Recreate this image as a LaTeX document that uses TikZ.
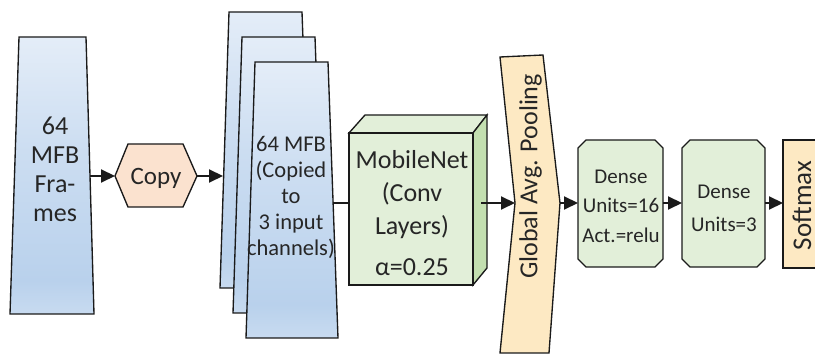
\documentclass[tikz,border=0pt]{standalone}
\usepackage{fontspec}
\setmainfont{Carlito}
\usetikzlibrary{arrows.meta}

\definecolor{slabtop}{HTML}{E4EDF8}
\definecolor{slabmid}{HTML}{B9D1EC}
\definecolor{slabbot}{HTML}{C8DBF0}
\definecolor{convfront}{HTML}{E2EFD9}
\definecolor{convside}{HTML}{C3DFB0}
\definecolor{densefill}{HTML}{E2EFD9}
\definecolor{poolfill}{HTML}{FDE9C3}
\definecolor{copyfill}{HTML}{FBE2CF}
\definecolor{inkline}{HTML}{1A1A1A}
\definecolor{inktext}{HTML}{262626}

% pale at the top, deepest blue near the foot, slightly lighter at the very bottom
\pgfdeclareverticalshading{slabshade}{100bp}{%
  color(0bp)=(slabbot); color(25bp)=(slabbot); color(31bp)=(slabmid);
  color(55bp)=(slabmid!55!slabtop); color(75bp)=(slabtop); color(100bp)=(slabtop)}

\begin{document}
\begin{tikzpicture}[x=1pt,y=-1pt,
  outline/.style={draw=inkline, line width=1.35pt, line join=miter},
  slab/.style={outline, shade, shading=slabshade},
  txt/.style={text=inktext, align=center, inner sep=0pt},
  flow/.style={draw=inkline, line width=2.1pt, -{Triangle[length=14pt,width=13pt]}},
  link/.style={draw=inkline, line width=1.8pt}]
\useasboundingbox (0,0) rectangle (815,355);
\clip (0,0) rectangle (815,355);

% input frames
\path[slab] (19,37) -- (86,37) -- (94,314) -- (10,314) -- cycle;
\node[txt, font=\fontsize{26}{29}\selectfont] (frames) at (55,169) {64\\MFB\\Fra-\\mes};
\coordinate (frames-out) at (90,176);

% copy step
\path[outline, fill=copyfill] (115,176) -- (128,144) -- (183,144) -- (197,176)
  -- (183,207) -- (128,207) -- cycle;
\node[txt, font=\fontsize{25}{28}\selectfont, anchor=base] (copy) at (156,185) {Copy};
\coordinate (copy-in) at (115,176);
\coordinate (copy-out) at (197,176);

% three input channels, back to front
\foreach \dx/\dy in {-26/-50, -13/-25, 0/0}
  \path[slab, shift={(\dx,\dy)}] (255,62) -- (328,62) -- (338,338) -- (246,338) -- cycle;
\node[txt, font=\fontsize{22.5}{26}\selectfont] (slabs) at (291,197)
  {64 MFB\\(Copied\\to\\3 input\\channels)};
\coordinate (slabs-in) at (223,176);
\coordinate (slabs-out) at (333,203);

% MobileNet block as a cuboid
\path[outline, fill=convfront] (349,133) -- (365,115) -- (487,115) -- (473,133) -- cycle;
\path[outline, fill=convside] (473,133) -- (487,115) -- (487,268) -- (473,285) -- cycle;
\path[outline, fill=convfront] (349,133) rectangle (473,285);
\node[txt, font=\fontsize{26}{33}\selectfont] (conv) at (412,213.5)
  {MobileNet\\(Conv\\Layers)\\[8pt]α=0.25};
\coordinate (conv-in) at (349,203);
\coordinate (conv-out) at (481,203);

% global average pooling chevron
\path[outline, fill=poolfill] (500,57) -- (543,55) -- (560,203) -- (549,353)
  -- (500,353) -- (515,203) -- cycle;
\node[txt, font=\fontsize{26}{30}\selectfont, rotate=90] (pool) at (530.5,176.5)
  {Global Avg. Pooling};
\coordinate (pool-in) at (515,203);
\coordinate (pool-out) at (560,203);

% dense layers
\path[outline, fill=densefill] (586,140) -- (655,140) -- (663,148) -- (663,259)
  -- (655,267) -- (586,267) -- (578,259) -- (578,148) -- cycle;
\node[txt, font=\fontsize{21}{29.5}\selectfont] (dense1) at (621,206)
  {Dense\\Units=16\\Act.=relu};
\coordinate (dense1-in) at (578,203);
\coordinate (dense1-out) at (663,203);

\path[outline, fill=densefill] (690,140) -- (757,140) -- (765,148) -- (765,259)
  -- (757,267) -- (690,267) -- (682,259) -- (682,148) -- cycle;
\node[txt, font=\fontsize{21}{33}\selectfont] (dense2) at (724,208)
  {Dense\\Units=3};
\coordinate (dense2-in) at (682,203);
\coordinate (dense2-out) at (765,203);

% softmax output
\path[outline, fill=poolfill] (783,140) rectangle (830,268);
\node[txt, font=\fontsize{27}{30}\selectfont, rotate=90] (soft) at (802,205.5) {Softmax};
\coordinate (soft-in) at (783,203);

% connectors
\draw[flow] (frames-out) -- (copy-in);
\draw[flow] (copy-out) -- (slabs-in);
\draw[link] (slabs-out) -- (conv-in);
\draw[flow] (conv-out) -- (pool-in);
\draw[flow] (pool-out) -- (dense1-in);
\draw[flow] (dense1-out) -- (dense2-in);
\draw[flow] (dense2-out) -- (soft-in);
\end{tikzpicture}
\end{document}
